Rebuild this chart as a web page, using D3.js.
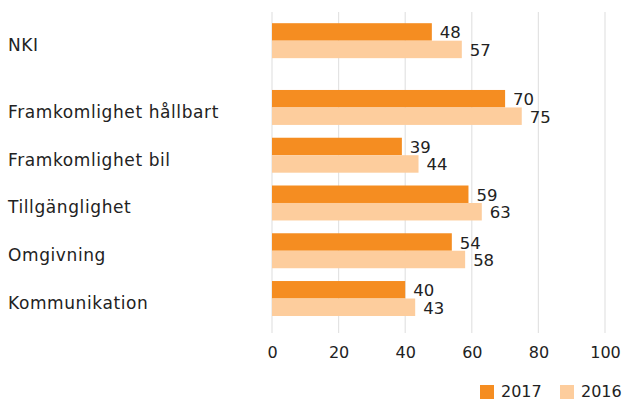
<!DOCTYPE html>
<html>
<head>
<meta charset="utf-8">
<script src="https://cdn.jsdelivr.net/npm/d3@7"></script>
<style>
  html, body { margin: 0; padding: 0; background: #fff; }
  svg { display: block; }
  text { font-family: "DejaVu Sans", "Open Sans", sans-serif; fill: #222; }
</style>
</head>
<body>
<div id="chart"></div>
<script>
// ---- data ----
const categories = ["NKI", "Framkomlighet hållbart", "Framkomlighet bil", "Tillgänglighet", "Omgivning", "Kommunikation"];
const series = ["2017", "2016"];
const values2017 = [48, 70, 39, 59, 54, 40];
const values2016 = [57, 75, 44, 63, 58, 43];
const xTicks = [0, 20, 40, 60, 80, 100];
const colors = ["#F58D21", "#FDCD9D"];

// ---- layout ----
const W = 624, H = 400;
const plotLeft = 272, plotRight = 605, plotTop = 12, plotBottom = 333;
const nkiGap = 19; // NKI group is set apart from the rest

const svg = d3.select("#chart").append("svg").attr("width", W).attr("height", H);

const x = d3.scaleLinear().domain([0, 100]).range([plotLeft, plotRight]);
const y = d3.scaleBand().domain(categories).range([42.2, 316]).paddingInner(0.268).paddingOuter(0);
const ySub = d3.scaleBand().domain(series).range([0, y.bandwidth()]);
const yPos = c => y(c) - (c === "NKI" ? nkiGap : 0);

// gridlines
svg.append("g").selectAll("line").data(xTicks).join("line")
  .attr("x1", d => x(d)).attr("x2", d => x(d))
  .attr("y1", plotTop).attr("y2", plotBottom)
  .attr("stroke", "#e3e3e3").attr("stroke-width", 1.2);

// x axis labels
const xAxis = d3.axisBottom(x).tickValues(xTicks).tickSize(0).tickPadding(0).tickFormat(d3.format("d"));
const gx = svg.append("g").attr("transform", `translate(0,${plotBottom})`).call(xAxis);
gx.select(".domain").remove();
gx.selectAll("text").attr("y", 25).attr("dy", 0).style("font-size", "16px")
  .style("font-family", '"DejaVu Sans", sans-serif').attr("fill", "#222");

// bars
const data = categories.map((c, i) => ({ cat: c, vals: [values2017[i], values2016[i]] }));
const groups = svg.append("g").selectAll("g").data(data).join("g")
  .attr("transform", d => `translate(0,${yPos(d.cat)})`);

groups.selectAll("rect").data(d => d.vals.map((v, j) => ({ s: series[j], v, j }))).join("rect")
  .attr("x", x(0))
  .attr("y", d => ySub(d.s))
  .attr("width", d => x(d.v) - x(0))
  .attr("height", ySub.bandwidth())
  .attr("fill", d => colors[d.j]);

groups.selectAll("text.val").data(d => d.vals.map((v, j) => ({ s: series[j], v, j }))).join("text")
  .attr("class", "val")
  .attr("x", d => x(d.v) + 8)
  .attr("y", d => ySub(d.s) + ySub.bandwidth() / 2 + 6.5)
  .style("font-size", "16.5px")
  .text(d => d.v);

// category labels
svg.append("g").selectAll("text").data(categories).join("text")
  .attr("x", 8)
  .attr("y", c => yPos(c) + y.bandwidth() / 2 + 10.5)
  .style("font-size", "17px")
  .style("letter-spacing", "0.6px")
  .text(c => c);

// legend
const legend = svg.append("g");
const legX = [480, 560];
series.forEach((s, i) => {
  legend.append("rect").attr("x", legX[i]).attr("y", 385).attr("width", 14).attr("height", 14).attr("fill", colors[i]);
  legend.append("text").attr("x", legX[i] + 21).attr("y", 397).style("font-size", "16px").text(s);
});
</script>
</body>
</html>
